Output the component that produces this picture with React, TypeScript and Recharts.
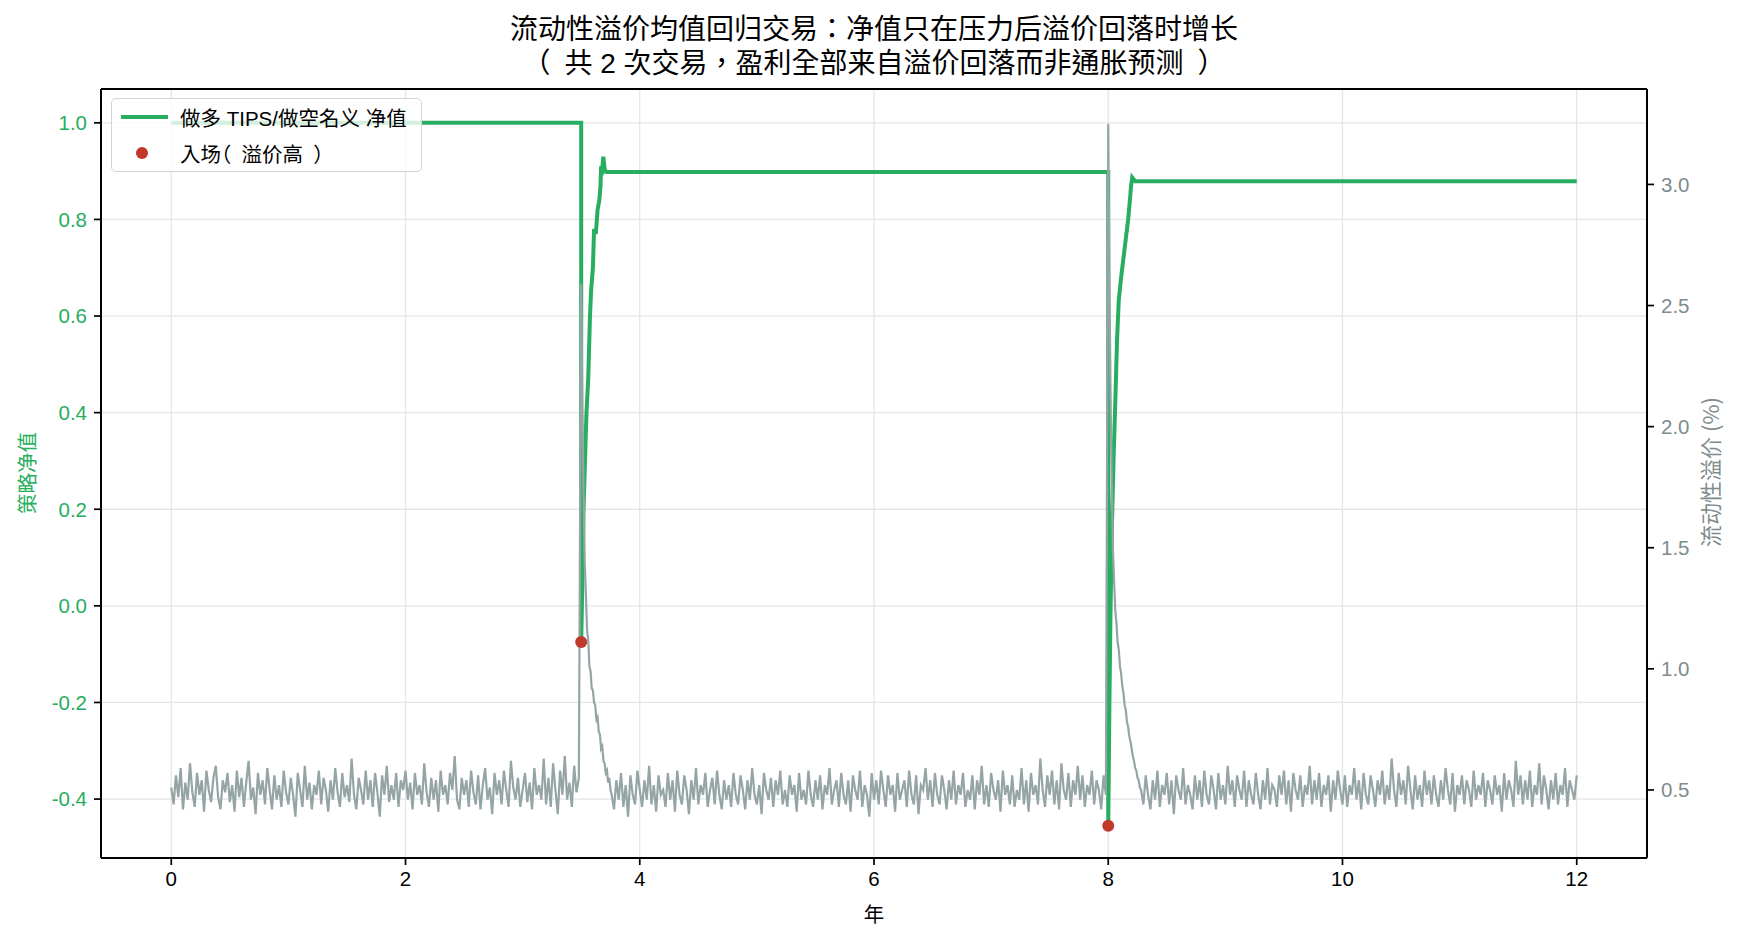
import {
  CartesianGrid,
  ComposedChart,
  Line,
  ReferenceLine,
  Scatter,
  XAxis,
  YAxis,
} from 'recharts';

const GREEN = '#27ae60';
const GRAY = '#95a5a6';
const GRAY_TEXT = '#7f8c8d';
const RED = '#c0392b';
const FONT = "'Liberation Sans', Arial, 'Noto Sans CJK TC', sans-serif";
const CJK = "'Noto Sans CJK TC', 'Liberation Sans', sans-serif";

// 流动性溢价 (%)，以 0.01% 为单位
const premiumCalmA = [
  51, 44, 56, 47, 59, 42, 53, 46, 61, 49, 43, 57, 48, 54, 41, 58, 50, 45, 55, 60, 47, 42, 54, 49, 57,
  45, 52, 41, 58, 47, 55, 43, 53, 62, 46, 51, 40, 57, 48, 54, 44, 59, 50, 42, 56, 46, 52, 43, 58, 49,
  44, 55, 48, 39, 57, 50, 43, 60, 46, 53, 42, 52, 48, 58, 44, 55, 50, 41, 54, 46, 59, 49, 43, 57, 47,
  52, 45, 63, 48, 42, 55, 50, 44, 58, 46, 54, 43, 57, 49, 39, 56, 48, 60, 45, 52, 46, 57, 43, 54, 50,
  58, 46, 53, 42, 57, 48, 52, 44, 61, 49, 43, 55, 46, 54, 41, 58, 48, 52, 44, 57, 50, 64, 46, 42, 55,
  48, 54, 43, 58, 49, 44, 56, 42, 52, 59, 46, 51, 40, 57, 48, 54, 44, 58, 50, 43, 62, 51, 46, 55, 43,
  50, 57, 45, 53, 42, 59, 48, 52, 46, 63, 44, 55, 43, 61, 50, 40, 58, 48, 64, 46, 53, 43, 60, 49, 55,
];
const premiumSpike1 = [
  259, 208, 174, 144, 131, 116, 112, 101, 99, 92, 91, 86, 85, 79, 80, 74, 73, 67, 68, 62, 61, 57, 58,
  53, 55, 50,
];
const premiumCalmB = [
  48, 42, 54, 46, 57, 43, 52, 39, 56, 48, 44, 58, 50, 43, 54, 46, 60, 44, 52, 41, 56, 48, 50, 43, 57,
  46, 54, 41, 58, 48, 44, 56, 50, 40, 54, 46, 59, 44, 52, 48, 57, 43, 50, 55, 44, 58, 48, 42, 54, 46,
  52, 43, 57, 48, 44, 56, 50, 42, 54, 46, 59, 48, 44, 52, 40, 57, 50, 46, 55, 43, 54, 48, 58, 44, 50,
  43, 56, 48, 52, 41, 57, 46, 50, 44, 58, 48, 43, 54, 46, 56, 42, 52, 48, 59, 44, 50, 54, 43, 57, 48,
  44, 54, 41, 56, 50, 46, 58, 43, 52, 48, 39, 57, 46, 54, 44, 58, 50, 43, 56, 48, 52, 41, 57, 46, 50,
  54, 43, 58, 48, 44, 56, 40, 52, 50, 59, 46, 54, 43, 57, 48, 44, 56, 50, 42, 54, 46, 58, 44, 52, 48,
  57, 43, 50, 46, 56, 42, 54, 48, 60, 44, 52, 43, 57, 50, 46, 54, 41, 58, 48, 52, 44, 56, 43, 50, 46,
  59, 44, 54, 41, 57, 48, 52, 44, 63, 50, 43, 56, 48, 58, 44, 54, 42, 61, 50, 46, 57, 43, 54, 48, 60,
  46, 56, 43, 52, 48, 58, 44, 54, 50, 42, 56, 48,
];
const premiumSpike2 = [
  325, 262, 212, 176, 150, 136, 124, 119, 111, 108, 101, 98, 93, 90, 85, 83, 78, 76, 72, 70, 67, 64,
  62, 59, 58, 55, 54, 51,
];
const premiumCalmC = [
  50, 44, 56, 48, 42, 54, 46, 58, 43, 52, 48, 57, 44, 54, 40, 56, 50, 46, 59, 44, 52, 48, 42, 56, 46,
  54, 43, 58, 48, 44, 56, 50, 42, 57, 46, 52, 44, 60, 48, 54, 43, 56, 50, 46, 58, 43, 54, 48, 44, 57,
  48, 42, 54, 46, 59, 44, 52, 50, 43, 56, 48, 58, 44, 54, 41, 57, 50, 46, 56, 43, 52, 48, 60, 44, 54,
  46, 57, 43, 52, 48, 56, 41, 54, 46, 58, 50, 44, 56, 43, 52, 48, 59, 46, 54, 42, 57, 48, 44, 56, 50,
  43, 54, 48, 58, 44, 52, 46, 63, 50, 43, 57, 48, 54, 44, 60, 50, 42, 56, 46, 52, 43, 58, 48, 54, 44,
  56, 48, 43, 54, 46, 59, 50, 44, 57, 41, 52, 48, 56, 44, 54, 50, 43, 58, 46, 52, 48, 57, 43, 54, 50,
  44, 56, 48, 52, 41, 57, 46, 54, 50, 43, 62, 48, 56, 44, 54, 46, 58, 43, 52, 48, 61, 44, 56, 50, 42,
  54, 46, 57, 44, 52, 48, 59, 43, 54, 50, 46, 56,
];

// 策略净值（做多 TIPS / 做空名义）
const navYears = [
  0, 3.5, 3.5, 3.51, 3.52, 3.53, 3.545, 3.56, 3.575, 3.585, 3.6, 3.61, 3.625, 3.64, 3.655, 3.665,
  3.67, 3.68, 3.689, 3.7, 3.713, 8.0, 8.0, 8.01, 8.02, 8.03, 8.045, 8.06, 8.075, 8.09, 8.11, 8.128,
  8.15, 8.17, 8.185, 8.195, 8.205, 8.215, 8.23, 12,
];
const navValues = [
  1.0, 1.0, -0.075, 0.05, 0.2, 0.28, 0.4, 0.47, 0.6, 0.654, 0.7, 0.78, 0.77, 0.82, 0.84, 0.87, 0.91,
  0.905, 0.93, 0.905, 0.898, 0.898, -0.455, -0.2, 0.0, 0.15, 0.3, 0.42, 0.55, 0.633, 0.68, 0.716,
  0.76, 0.8, 0.84, 0.87, 0.887, 0.884, 0.879, 0.879,
];

// 入场点（溢价高）
const entryYears = [3.5, 8.0];
const entryNav = [-0.075, -0.455];

const xTicks = [0, 2, 4, 6, 8, 10, 12];
const navTicks = [-0.4, -0.2, 0, 0.2, 0.4, 0.6, 0.8, 1.0];
const premiumTicks = [0.5, 1.0, 1.5, 2.0, 2.5, 3.0];
const xDomain = [-0.6, 12.6];
const navDomain = [-0.522, 1.07];
const premiumDomain = [0.219, 3.394];

function segment(start: number, end: number, hundredths: number[]) {
  const step = (end - start) / (hundredths.length - 1);
  return hundredths.map((v, i) => ({ year: start + i * step, premium: v / 100 }));
}

const premiumData = [
  ...segment(0, 3.48, premiumCalmA),
  ...segment(3.5, 3.75, premiumSpike1),
  ...segment(3.76, 7.98, premiumCalmB),
  ...segment(8.0, 8.27, premiumSpike2),
  ...segment(8.28, 12.0, premiumCalmC),
];
const navData = navYears.map((year, i) => ({ year, nav: navValues[i] }));
const entryData = entryYears.map((year, i) => ({ year, nav: entryNav[i] }));

const tickLine = { stroke: '#000', strokeWidth: 1.7 };
const spine = { stroke: '#000', strokeWidth: 2 };

// 全角括号占整字宽，左括号靠左、右括号靠右
function Paren({ ch, close = false }: { ch: string; close?: boolean }) {
  return (
    <span style={{ display: 'inline-block', width: '1em', textAlign: close ? 'right' : 'left' }}>
      <span style={{ fontFeatureSettings: "'halt' 1" }}>{ch}</span>
    </span>
  );
}

export default function App() {
  return (
    <div
      style={{
        position: 'absolute',
        left: 0,
        top: 0,
        width: 1738,
        height: 942,
        background: '#fff',
        overflow: 'hidden',
      }}
    >
      <ComposedChart width={1738} height={942} margin={{ top: 89, right: 0, bottom: 0, left: 0 }}>
        <CartesianGrid yAxisId="nav" stroke="#e6e6e6" strokeWidth={1.3} />
        <XAxis
          type="number"
          dataKey="year"
          domain={xDomain}
          allowDataOverflow
          ticks={xTicks}
          height={84}
          tickSize={7}
          tickMargin={6}
          axisLine={spine}
          tickLine={tickLine}
          tick={{ fill: '#000', fontSize: 20.5, fontFamily: FONT }}
        />
        <YAxis
          yAxisId="nav"
          dataKey="nav"
          orientation="left"
          type="number"
          domain={navDomain}
          allowDataOverflow
          ticks={navTicks}
          width={101}
          tickSize={7}
          tickMargin={7}
          axisLine={spine}
          tickLine={tickLine}
          tickFormatter={(v: number) => v.toFixed(1)}
          tick={{ fill: GREEN, fontSize: 20.5, fontFamily: FONT }}
        />
        <YAxis
          yAxisId="premium"
          dataKey="premium"
          orientation="right"
          type="number"
          domain={premiumDomain}
          allowDataOverflow
          ticks={premiumTicks}
          width={91}
          tickSize={7}
          tickMargin={7}
          axisLine={spine}
          tickLine={tickLine}
          tickFormatter={(v: number) => v.toFixed(1)}
          tick={{ fill: GRAY_TEXT, fontSize: 20.5, fontFamily: FONT }}
        />
        <ReferenceLine yAxisId="nav" y={navDomain[1]} stroke="#000" strokeWidth={2} />
        <Line
          yAxisId="nav"
          data={navData}
          dataKey="nav"
          type="linear"
          stroke={GREEN}
          strokeWidth={4}
          dot={false}
          activeDot={false}
          isAnimationActive={false}
        />
        <Scatter
          yAxisId="nav"
          data={entryData}
          dataKey="nav"
          fill={RED}
          isAnimationActive={false}
          shape={(p: any) => <circle cx={p.cx} cy={p.cy} r={6} fill={RED} />}
        />
        <Line
          yAxisId="premium"
          data={premiumData}
          dataKey="premium"
          type="linear"
          stroke={GRAY}
          strokeWidth={2.2}
          dot={false}
          activeDot={false}
          isAnimationActive={false}
        />
      </ComposedChart>

      <div
        style={{
          position: 'absolute',
          left: 101,
          width: 1546,
          top: 13,
          textAlign: 'center',
          fontFamily: FONT,
          fontSize: 28,
          lineHeight: '34px',
          color: '#000',
          whiteSpace: 'nowrap',
        }}
      >
        流动性溢价均值回归交易：净值只在压力后溢价回落时增长
        <br />
        <Paren ch="（" />共 2 次交易，盈利全部来自溢价回落而非通胀预测<Paren ch="）" close />
      </div>

      <div
        style={{
          position: 'absolute',
          left: 26,
          top: 473,
          transform: 'translate(-50%, -50%) rotate(-90deg)',
          whiteSpace: 'nowrap',
          fontFamily: CJK,
          fontSize: 20.5,
          color: GREEN,
        }}
      >
        策略净值
      </div>
      <div
        style={{
          position: 'absolute',
          left: 1709,
          top: 472,
          transform: 'translate(-50%, -50%) rotate(-90deg)',
          whiteSpace: 'nowrap',
          fontFamily: CJK,
          fontSize: 22,
          color: GRAY_TEXT,
        }}
      >
        流动性溢价 (%)
      </div>
      <div
        style={{
          position: 'absolute',
          left: 874,
          top: 913,
          transform: 'translate(-50%, -50%)',
          fontFamily: CJK,
          fontSize: 20.5,
          color: '#000',
        }}
      >
        年
      </div>

      <div
        style={{
          position: 'absolute',
          left: 111,
          top: 98,
          width: 311,
          height: 74,
          boxSizing: 'border-box',
          border: '1.5px solid #d4d4d4',
          borderRadius: 5,
          background: 'rgba(255,255,255,0.8)',
          fontFamily: FONT,
          fontSize: 20.5,
          color: '#000',
        }}
      >
        <div style={{ position: 'absolute', left: 9, top: 16, width: 47, height: 4, background: GREEN }} />
        <div style={{ position: 'absolute', left: 68, top: 18, transform: 'translateY(-50%)', whiteSpace: 'nowrap' }}>
          做多 TIPS/做空名义 净值
        </div>
        <div
          style={{
            position: 'absolute',
            left: 24,
            top: 48,
            width: 12,
            height: 12,
            borderRadius: '50%',
            background: RED,
          }}
        />
        <div style={{ position: 'absolute', left: 68, top: 54, transform: 'translateY(-50%)', whiteSpace: 'nowrap' }}>
          入场<Paren ch="（" />溢价高<Paren ch="）" close />
        </div>
      </div>
    </div>
  );
}
